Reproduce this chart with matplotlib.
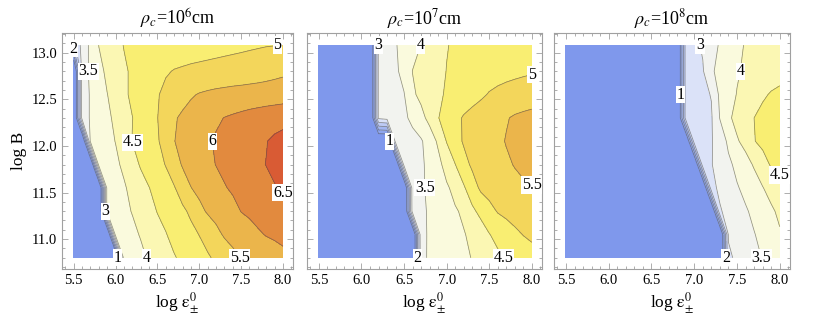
import numpy as np
import matplotlib.pyplot as plt

plt.rcParams['font.family'] = 'serif'
plt.rcParams['font.serif'] = ['Liberation Serif', 'DejaVu Serif']
plt.rcParams['mathtext.fontset'] = 'stix'

# sampling grid (log eps on x, log B on y)
log_eps = [5.5, 5.6, 5.7, 5.8, 5.9, 6.0, 6.1, 6.2, 6.3, 6.4, 6.5, 6.6, 6.7,
           6.8, 6.9, 7.0, 7.1, 7.2, 7.3, 7.4, 7.5, 7.6, 7.7, 7.8, 7.9, 8.0]
log_b = [10.8, 11.05, 11.3, 11.55, 11.8, 12.05, 12.3, 12.55, 12.8, 13.08]

# rows go from log B = 10.8 (first) to 13.08 (last); 0 = no solution (blue)
z_rho6 = [
    [0, 0, 0, 0, 0, 0, 3.7, 3.8, 3.9, 4.05, 4.2, 4.34, 4.47, 4.58, 4.7, 4.82, 4.94, 5.08, 5.23, 5.38, 5.52, 5.6, 5.68, 5.76, 5.83, 5.9],
    [0, 0, 0, 0, 0, 3.7, 3.8, 3.9, 4.03, 4.17, 4.33, 4.48, 4.62, 4.75, 4.88, 5.01, 5.18, 5.38, 5.55, 5.65, 5.75, 5.85, 5.95, 6.02, 6.06, 6.1],
    [0, 0, 0, 0, 3.7, 3.8, 3.9, 4.02, 4.17, 4.33, 4.52, 4.63, 4.77, 4.92, 5.08, 5.38, 5.55, 5.65, 5.75, 5.87, 6.01, 6.07, 6.13, 6.19, 6.25, 6.3],
    [0, 0, 0, 0, 3.7, 3.8, 3.95, 4.12, 4.3, 4.49, 4.65, 4.8, 4.97, 5.2, 5.49, 5.62, 5.74, 5.86, 5.97, 6.06, 6.14, 6.22, 6.3, 6.38, 6.47, 6.55],
    [0, 0, 0, 3.7, 3.82, 3.92, 4.08, 4.3, 4.55, 4.7, 4.85, 5.02, 5.25, 5.55, 5.68, 5.78, 5.9, 6.01, 6.1, 6.18, 6.26, 6.34, 6.42, 6.51, 6.62, 6.75],
    [0, 0, 3.6, 3.75, 3.88, 4.01, 4.25, 4.51, 4.66, 4.8, 4.95, 5.2, 5.49, 5.6, 5.7, 5.82, 5.94, 6.05, 6.13, 6.2, 6.27, 6.35, 6.43, 6.48, 6.6, 6.7],
    [0, 3.2, 3.55, 3.73, 3.9, 4.1, 4.3, 4.49, 4.7, 4.85, 4.99, 5.25, 5.45, 5.58, 5.68, 5.77, 5.85, 5.93, 6.01, 6.06, 6.11, 6.16, 6.2, 6.24, 6.27, 6.3],
    [0, 3.2, 3.55, 3.78, 3.99, 4.2, 4.4, 4.6, 4.73, 4.85, 4.97, 5.1, 5.22, 5.33, 5.45, 5.53, 5.58, 5.62, 5.65, 5.68, 5.7, 5.72, 5.74, 5.76, 5.78, 5.8],
    [0, 3.2, 3.6, 3.85, 4.1, 4.25, 4.42, 4.58, 4.7, 4.8, 4.88, 4.96, 5.02, 5.05, 5.08, 5.1, 5.12, 5.14, 5.16, 5.18, 5.2, 5.23, 5.26, 5.3, 5.35, 5.4],
    [2.3, 3.2, 3.6, 4.01, 4.15, 4.32, 4.52, 4.58, 4.62, 4.66, 4.7, 4.73, 4.76, 4.78, 4.8, 4.82, 4.84, 4.86, 4.88, 4.9, 4.92, 4.94, 4.96, 4.98, 4.99, 5.02],
]
z_rho7 = [
    [0, 0, 0, 0, 0, 0, 0, 0, 0, 0, 0, 0, 3.35, 3.58, 3.66, 3.74, 3.82, 3.9, 4.02, 4.12, 4.25, 4.4, 4.55, 4.68, 4.8, 4.9],
    [0, 0, 0, 0, 0, 0, 0, 0, 0, 0, 0, 0, 3.4, 3.55, 3.67, 3.78, 3.88, 3.97, 4.1, 4.25, 4.48, 4.65, 4.8, 4.92, 5.01, 5.05],
    [0, 0, 0, 0, 0, 0, 0, 0, 0, 0, 0, 3.25, 3.4, 3.56, 3.7, 3.83, 3.95, 4.08, 4.4, 4.63, 4.85, 5.03, 5.1, 5.16, 5.21, 5.25],
    [0, 0, 0, 0, 0, 0, 0, 0, 0, 0, 0, 3.3, 3.44, 3.58, 3.75, 3.93, 4.15, 4.44, 4.78, 5.08, 5.18, 5.26, 5.33, 5.39, 5.44, 5.48],
    [0, 0, 0, 0, 0, 0, 0, 0, 0, 0, 3.2, 3.32, 3.44, 3.6, 3.85, 4.2, 4.49, 4.83, 5.08, 5.18, 5.27, 5.36, 5.44, 5.52, 5.59, 5.65],
    [0, 0, 0, 0, 0, 0, 0, 0, 0, 3.2, 3.28, 3.36, 3.45, 3.72, 4.08, 4.52, 4.8, 5.05, 5.15, 5.24, 5.33, 5.42, 5.52, 5.59, 5.65, 5.7],
    [0, 0, 0, 0, 0, 0, 0, 3.1, 3.2, 3.3, 3.42, 3.6, 3.85, 4.15, 4.48, 4.7, 4.88, 5.04, 5.14, 5.22, 5.3, 5.38, 5.47, 5.55, 5.59, 5.62],
    [0, 0, 0, 0, 0, 0, 0, 3.1, 3.22, 3.35, 3.48, 3.92, 4.12, 4.27, 4.42, 4.55, 4.65, 4.75, 4.84, 4.93, 5.03, 5.1, 5.16, 5.21, 5.26, 5.3],
    [0, 0, 0, 0, 0, 0, 0, 3.1, 3.25, 3.42, 3.65, 4.01, 4.12, 4.24, 4.37, 4.51, 4.6, 4.67, 4.72, 4.76, 4.8, 4.83, 4.86, 4.89, 4.92, 4.95],
    [0, 0, 0, 0, 0, 0, 0, 3.1, 3.3, 3.47, 3.65, 3.82, 4.01, 4.15, 4.32, 4.48, 4.56, 4.62, 4.66, 4.7, 4.73, 4.76, 4.79, 4.82, 4.85, 4.88],
]
z_rho8 = [
    [0, 0, 0, 0, 0, 0, 0, 0, 0, 0, 0, 0, 0, 0, 0, 0, 0, 0, 0, 2.9, 3.1, 3.25, 3.38, 3.52, 3.66, 3.8],
    [0, 0, 0, 0, 0, 0, 0, 0, 0, 0, 0, 0, 0, 0, 0, 0, 0, 0, 0, 3.05, 3.2, 3.33, 3.48, 3.62, 3.8, 3.95],
    [0, 0, 0, 0, 0, 0, 0, 0, 0, 0, 0, 0, 0, 0, 0, 0, 0, 0, 2.95, 3.15, 3.3, 3.45, 3.6, 3.75, 3.92, 4.1],
    [0, 0, 0, 0, 0, 0, 0, 0, 0, 0, 0, 0, 0, 0, 0, 0, 0, 2.85, 3.1, 3.3, 3.46, 3.62, 3.78, 3.98, 4.18, 4.35],
    [0, 0, 0, 0, 0, 0, 0, 0, 0, 0, 0, 0, 0, 0, 0, 0, 2.8, 2.98, 3.15, 3.4, 3.62, 3.82, 4.05, 4.3, 4.55, 4.62],
    [0, 0, 0, 0, 0, 0, 0, 0, 0, 0, 0, 0, 0, 0, 0, 2.75, 2.85, 2.97, 3.2, 3.6, 3.95, 4.15, 4.48, 4.62, 4.74, 4.82],
    [0, 0, 0, 0, 0, 0, 0, 0, 0, 0, 0, 0, 0, 0, 2.7, 2.8, 2.88, 2.95, 3.52, 3.92, 4.14, 4.3, 4.5, 4.6, 4.67, 4.72],
    [0, 0, 0, 0, 0, 0, 0, 0, 0, 0, 0, 0, 0, 0, 2.7, 2.8, 2.9, 3.02, 3.6, 3.8, 4.02, 4.15, 4.3, 4.45, 4.53, 4.56],
    [0, 0, 0, 0, 0, 0, 0, 0, 0, 0, 0, 0, 0, 0, 2.7, 2.85, 2.96, 3.4, 3.7, 3.85, 3.95, 4.08, 4.18, 4.26, 4.33, 4.4],
    [0, 0, 0, 0, 0, 0, 0, 0, 0, 0, 0, 0, 0, 0, 2.7, 2.9, 3.05, 3.3, 3.55, 3.72, 3.9, 4.03, 4.1, 4.15, 4.2, 4.25],
]

titles = [r'$\rho_c$=10$^6$cm', r'$\rho_c$=10$^7$cm', r'$\rho_c$=10$^8$cm']

line_levels = [1, 1.5, 2, 2.5, 3, 3.5, 4, 4.5, 5, 5.5, 6, 6.5]
fill_levels = [-0.5] + line_levels + [7.5]
band_colors = ['#7f98ec', '#8ea5ee', '#a3b6f1', '#bdcaf4', '#dbe2f8', '#f2f3ef',
               '#fafadd', '#fbf7b3', '#f9ee72', '#f3d65b', '#ebb54b', '#e28a3e',
               '#d95b34']

# where each contour label sits (level, x, y)
label_spots = [
    [(2, 5.52, 13.05), (3.5, 5.62, 12.72), (4.5, 6.15, 11.95), (3, 5.85, 11.3),
     (1, 6.02, 10.82), (4, 6.4, 10.8), (5, 8.0, 13.04), (6, 7.17, 12.05),
     (6.5, 8.0, 11.55), (5.5, 7.52, 10.82)],
    [(3, 6.18, 13.05), (4, 6.72, 12.95), (1, 6.3, 12.05), (3.5, 6.75, 11.5),
     (2, 6.66, 10.82), (5, 8.0, 12.75), (5.5, 7.95, 11.55), (4.5, 7.66, 10.82)],
    [(3, 7.08, 13.06), (4, 7.55, 12.88), (1, 6.84, 12.5), (4.5, 7.95, 11.62),
     (2, 7.36, 10.83), (3.5, 7.8, 10.82)],
]

axes_boxes = [[62 / 830, 54 / 323, 231 / 830, 236 / 323],
              [307 / 830, 54 / 323, 235 / 830, 236 / 323],
              [554 / 830, 54 / 323, 236 / 830, 236 / 323]]

fig = plt.figure(figsize=(8.3, 3.23), dpi=100)
frame_col = '#a0a0a0'


def nearest_on_contour(cs, lev, x, y):
    # closest vertex of the contour line `lev` to (x, y)
    segs = cs.allsegs[line_levels.index(lev)]
    pts = np.vstack([s for s in segs if len(s)])
    d = ((pts[:, 0] - x) / 2.7) ** 2 + ((pts[:, 1] - y) / 2.5) ** 2
    return pts[np.argmin(d)]


for i, z in enumerate([z_rho6, z_rho7, z_rho8]):
    ax = fig.add_axes(axes_boxes[i])
    zz = np.array(z)
    ax.contourf(log_eps, log_b, zz, levels=fill_levels, colors=band_colors)
    cs = ax.contour(log_eps, log_b, zz, levels=line_levels, colors='#4a4a4a',
                    linewidths=0.55, alpha=0.6)
    for lev, lx, ly in label_spots[i]:
        px, py = nearest_on_contour(cs, lev, lx, ly)
        ax.text(px, py, f'{lev:g}', fontsize=11.5, ha='center', va='center',
                zorder=5, clip_on=False,
                bbox=dict(facecolor='white', edgecolor='none', pad=0.5))

    ax.set_xlim(5.36, 8.12)
    ax.set_ylim(10.68, 13.21)
    ax.set_xticks([5.5, 6.0, 6.5, 7.0, 7.5, 8.0])
    ax.set_xticks(np.arange(5.4, 8.15, 0.1), minor=True)
    ax.set_yticks([11.0, 11.5, 12.0, 12.5, 13.0])
    ax.set_yticks(np.arange(10.7, 13.25, 0.1), minor=True)
    ax.xaxis.set_major_formatter('{x:.1f}')
    ax.yaxis.set_major_formatter('{x:.1f}')
    ax.tick_params(which='both', direction='in', top=True, right=True,
                   color=frame_col, width=0.6, labelsize=10.5)
    ax.tick_params(which='major', length=4)
    ax.tick_params(which='minor', length=2)
    for sp in ax.spines.values():
        sp.set_color(frame_col)
        sp.set_linewidth(0.8)
    ax.set_title(titles[i], fontsize=13, pad=6)
    ax.set_xlabel(r'log $\mathrm{\epsilon}^{0}_{\pm}$', fontsize=12.5, labelpad=3)
    if i == 0:
        ax.set_ylabel('log B', fontsize=12.5, labelpad=3)
    else:
        ax.set_yticklabels([])

fig.savefig('out.png', dpi=100)
